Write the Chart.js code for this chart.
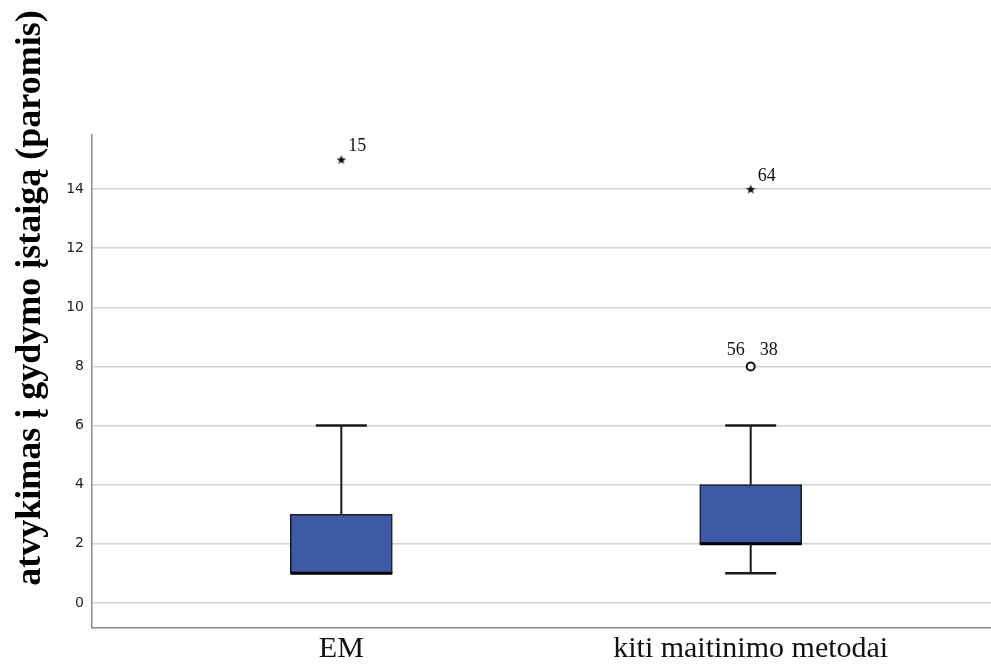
<!DOCTYPE html>
<html>
<head>
<meta charset="utf-8">
<script src="https://cdn.jsdelivr.net/npm/chart.js@4.4.1/dist/chart.umd.min.js"></script>
<style>
html,body{margin:0;padding:0;background:#fff;}
#wrap{width:991px;height:666px;position:relative;}
</style>
</head>
<body>
<div id="wrap"><canvas id="c"></canvas></div>
<script>
// ---- data ----
const categories = ['EM', 'kiti maitinimo metodai'];
const q1 = [1, 2];
const median = [1, 2];
const q3 = [3, 4];
const whiskerLow = [1, 1];
const whiskerHigh = [6, 6];
// extreme outliers (stars)
const extremeCat = [0, 1];
const extremeVal = [15, 14];
const extremeLabel = ['15', '64'];
// mild outliers (circles)
const outlierCat = [1];
const outlierVal = [8];
const outlierLabelLeft = ['56'];
const outlierLabelRight = ['38'];
const yTicks = [0, 2, 4, 6, 8, 10, 12, 14];
const yTitle = 'atvykimas į gydymo įstaigą (paromis)';

// star marker image
const starImg = document.createElement('canvas');
starImg.width = 12; starImg.height = 12;
(function(){
  const g = starImg.getContext('2d');
  g.fillStyle = '#111';
  g.beginPath();
  const cx = 6, cy = 6.5, R = 5, r = 2.1;
  for (let i = 0; i < 10; i++) {
    const a = -Math.PI / 2 + i * Math.PI / 5;
    const rad = i % 2 === 0 ? R : r;
    const px = cx + rad * Math.cos(a), py = cy + rad * Math.sin(a);
    if (i === 0) g.moveTo(px, py); else g.lineTo(px, py);
  }
  g.closePath();
  g.fill();
})();

const boxPlugin = {
  id: 'boxParts',
  afterDatasetsDraw(chart) {
    const ctx = chart.ctx, xs = chart.scales.x, ys = chart.scales.y;
    ctx.save();
    categories.forEach((c, i) => {
      const x = xs.getPixelForValue(i + 1);
      const capHalf = 25.5;
      const halfBox = 51;
      ctx.strokeStyle = '#1a1a1a';
      ctx.lineWidth = 2;
      if (whiskerHigh[i] > q3[i]) {
        ctx.beginPath();
        ctx.moveTo(x, ys.getPixelForValue(q3[i]));
        ctx.lineTo(x, ys.getPixelForValue(whiskerHigh[i]));
        ctx.stroke();
        ctx.lineWidth = 2.5;
        ctx.beginPath();
        ctx.moveTo(x - capHalf, ys.getPixelForValue(whiskerHigh[i]));
        ctx.lineTo(x + capHalf, ys.getPixelForValue(whiskerHigh[i]));
        ctx.stroke();
      }
      ctx.lineWidth = 2;
      if (whiskerLow[i] < q1[i]) {
        ctx.beginPath();
        ctx.moveTo(x, ys.getPixelForValue(q1[i]));
        ctx.lineTo(x, ys.getPixelForValue(whiskerLow[i]));
        ctx.stroke();
        ctx.lineWidth = 2.5;
        ctx.beginPath();
        ctx.moveTo(x - capHalf, ys.getPixelForValue(whiskerLow[i]));
        ctx.lineTo(x + capHalf, ys.getPixelForValue(whiskerLow[i]));
        ctx.stroke();
      }
      // median
      ctx.strokeStyle = '#000';
      ctx.lineWidth = 3;
      ctx.beginPath();
      const my = ys.getPixelForValue(median[i]);
      ctx.moveTo(x - halfBox, my);
      ctx.lineTo(x + halfBox, my);
      ctx.stroke();
    });
    // outlier labels
    ctx.fillStyle = '#111';
    ctx.font = '18px "Liberation Serif", "Times New Roman", serif';
    ctx.textBaseline = 'middle';
    extremeVal.forEach((v, i) => {
      const x = xs.getPixelForValue(extremeCat[i] + 1);
      const y = ys.getPixelForValue(v);
      ctx.textAlign = 'left';
      ctx.fillText(extremeLabel[i], x + 7, y - 13);
    });
    outlierVal.forEach((v, i) => {
      const x = xs.getPixelForValue(outlierCat[i] + 1);
      const y = ys.getPixelForValue(v);
      ctx.textAlign = 'right';
      ctx.fillText(outlierLabelLeft[i], x - 6, y - 16);
      ctx.textAlign = 'left';
      ctx.fillText(outlierLabelRight[i], x + 9, y - 16);
    });
    ctx.restore();
  },
  afterDraw(chart) {
    const ctx = chart.ctx;
    ctx.save();
    ctx.fillStyle = '#000';
    ctx.font = 'bold 36px "Liberation Serif", "Times New Roman", serif';
    ctx.textAlign = 'center';
    ctx.textBaseline = 'middle';
    ctx.translate(31, 298);
    ctx.rotate(-Math.PI / 2);
    ctx.fillText(yTitle, 0, 0);
    ctx.restore();
  }
};

new Chart(document.getElementById('c'), {
  type: 'bar',
  data: {
    datasets: [
      {
        type: 'bar',
        data: categories.map((c, i) => ({ x: i + 1, y: [q1[i], q3[i]] })),
        backgroundColor: '#3e5aa7',
        borderColor: '#1a1a1a',
        borderWidth: 1.5,
        borderSkipped: false,
        barThickness: 102,
        grouped: false,
        order: 2
      },
      {
        type: 'scatter',
        data: extremeVal.map((v, i) => ({ x: extremeCat[i] + 1, y: v })),
        pointStyle: starImg,
        pointRadius: 5,
        order: 1
      },
      {
        type: 'scatter',
        data: outlierVal.map((v, i) => ({ x: outlierCat[i] + 1, y: v })),
        pointStyle: 'circle',
        pointRadius: 4,
        backgroundColor: '#fff',
        borderColor: '#111',
        borderWidth: 2,
        order: 1
      }
    ]
  },
  options: {
    responsive: true,
    maintainAspectRatio: false,
    animation: false,
    layout: { autoPadding: false, padding: { top: 135, left: 0, right: 0, bottom: 0 } },
    plugins: { legend: { display: false }, tooltip: { enabled: false } },
    scales: {
      x: {
        type: 'linear',
        min: 0.391,
        max: 2.587,
        offset: false,
        afterBuildTicks: s => { s.ticks = categories.map((c, i) => ({ value: i + 1 })); },
        afterFit: s => { s.height = 38; s.paddingLeft = 0; s.paddingRight = 0; },
        grid: { display: false, drawTicks: false },
        border: { display: true, color: '#8a8a8a', width: 1.5 },
        ticks: {
          callback: v => categories[v - 1] || '',
          font: { family: '"Liberation Serif", "Times New Roman", serif', size: 30 },
          color: '#111',
          padding: 3,
          maxRotation: 0,
          autoSkip: false
        }
      },
      y: {
        type: 'linear',
        min: -0.85,
        max: 15.83,
        afterBuildTicks: s => { s.ticks = yTicks.map(v => ({ value: v })); },
        afterFit: s => { s.width = 92; s.paddingTop = 0; s.paddingBottom = 0; },
        grid: { color: '#d2d2d2', lineWidth: 1.5, drawTicks: false },
        border: { display: true, color: '#8a8a8a', width: 1.5 },
        ticks: {
          font: { family: '"DejaVu Sans", sans-serif', size: 14 },
          color: '#222',
          padding: 8
        }
      }
    }
  },
  plugins: [boxPlugin]
});
</script>
</body>
</html>
